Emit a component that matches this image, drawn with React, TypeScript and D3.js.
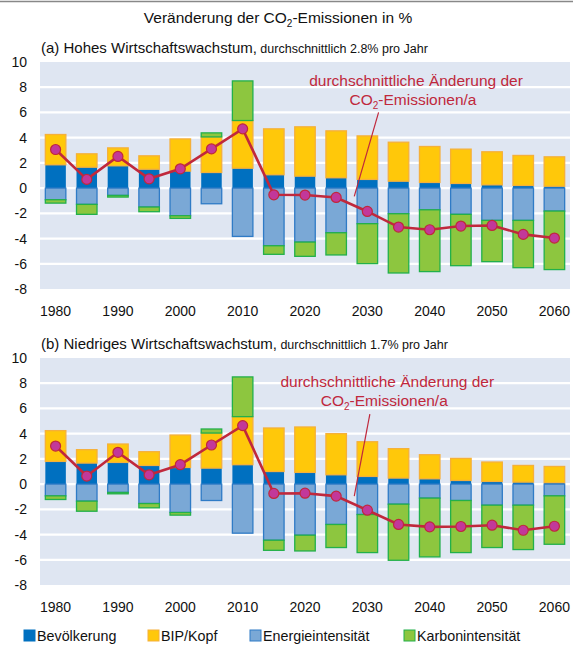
import * as d3 from "d3";

const years = [1980, 1985, 1990, 1995, 2000, 2005, 2010, 2015, 2020, 2025, 2030, 2035, 2040, 2045, 2050, 2055, 2060];
const yearLabels = [1980, 1990, 2000, 2010, 2020, 2030, 2040, 2050, 2060];
const yTicks = [-8, -6, -4, -2, 0, 2, 4, 6, 8, 10];

// (a) high growth
const popA = [1.85, 1.66, 1.77, 1.5, 1.35, 1.24, 1.58, 1.06, 0.95, 0.82, 0.69, 0.55, 0.45, 0.37, 0.26, 0.21, 0.15];
const gdpA = [2.4, 1.06, 1.42, 1.06, 2.55, 2.82, 3.78, 3.64, 3.91, 3.72, 3.45, 3.09, 2.85, 2.72, 2.62, 2.38, 2.33];
const energyA = [-0.92, -1.29, -0.58, -1.5, -2.19, -1.24, -3.83, -4.57, -4.28, -3.54, -2.82, -2.03, -1.72, -2.08, -2.56, -2.56, -1.82];
const carbonA = [-0.27, -0.79, -0.13, -0.37, -0.21, 0.32, 3.14, -0.68, -1.13, -1.76, -3.17, -4.7, -4.9, -4.07, -3.27, -3.75, -4.64];
const lineA = [3.06, 0.69, 2.51, 0.74, 1.53, 3.11, 4.7, -0.53, -0.55, -0.74, -1.85, -3.09, -3.3, -3.01, -2.96, -3.67, -3.96];

// (b) low growth
const popB = [1.8, 1.67, 1.72, 1.48, 1.32, 1.27, 1.54, 1.0, 0.93, 0.74, 0.61, 0.48, 0.42, 0.29, 0.21, 0.16, 0.1];
const gdpB = [2.44, 1.06, 1.46, 1.09, 2.57, 2.78, 3.81, 3.45, 3.6, 3.26, 2.75, 2.33, 1.91, 1.75, 1.54, 1.32, 1.3];
const energyB = [-0.93, -1.35, -0.66, -1.54, -2.25, -1.3, -3.89, -4.45, -4.05, -3.2, -2.41, -1.59, -1.11, -1.3, -1.67, -1.67, -0.93];
const carbonB = [-0.29, -0.8, -0.11, -0.34, -0.21, 0.32, 3.15, -0.8, -1.25, -1.83, -3.02, -4.45, -4.66, -4.13, -3.36, -3.52, -3.84];
const lineB = [3.02, 0.64, 2.52, 0.74, 1.54, 3.1, 4.64, -0.74, -0.72, -0.95, -2.07, -3.2, -3.39, -3.36, -3.26, -3.66, -3.34];

const keys = ["pop", "gdp", "energy", "carbon"];
const legendNames = ["Bevölkerung", "BIP/Kopf", "Energieintensität", "Karbonintensität"];
const fills: Record<string, string> = { pop: "#0070c0", gdp: "#ffc80a", energy: "#7aa8d6", carbon: "#8dc63f" };
const strokes: Record<string, string> = { pop: "#0070c0", gdp: "#f5b03a", energy: "#2f7bc6", carbon: "#22b04b" };

const FONT = "Liberation Sans, Arial, sans-serif";
const RED = "#c0283c";

const x = d3.scaleBand<number>().domain(years).range([40, 570]).paddingInner(0.31).paddingOuter(0.155);
const xc = d3.scaleLinear().domain([1980, 2060]).range([x(1980)! + x.bandwidth() / 2, x(2060)! + x.bandwidth() / 2]);

function Panel(props: { top: number; pop: number[]; gdp: number[]; energy: number[]; carbon: number[]; line: number[]; label: string; sub: string; ann: { tx: number; ty: number; x1: number; y1: number; x2: number; y2: number } }) {
  const y = d3.scaleLinear().domain([-8, 10]).range([props.top + 227, props.top]);
  const rows = years.map((yr, i) => ({ year: yr, pop: props.pop[i], gdp: props.gdp[i], energy: props.energy[i], carbon: props.carbon[i] }));
  const series = d3.stack<any>().keys(keys).offset(d3.stackOffsetDiverging)(rows);
  const path = d3.line<number>().x((_, i) => xc(years[i])).y((d) => y(d))(props.line);
  const a = props.ann;
  return (
    <g>
      <text x={41} y={props.top - 9} fontFamily={FONT} fill="#111">
        <tspan fontSize={15}>{props.label}</tspan>
        <tspan fontSize={12.5}>{" " + props.sub}</tspan>
      </text>
      <rect x={40} y={y(10)} width={530} height={y(-8) - y(10)} fill="#dfe6f2" />
      {yTicks.filter((t) => t > -8 && t < 10).map((t) => (
        <line key={t} x1={40} x2={570} y1={y(t)} y2={y(t)} stroke="#fff" strokeWidth={2.2} />
      ))}
      {yTicks.map((t) => (
        <text key={t} x={27} y={y(t) + 5} textAnchor="end" fontSize={14} fontFamily={FONT} fill="#111">{t}</text>
      ))}
      {yearLabels.map((yr) => (
        <text key={yr} x={xc(yr)} y={props.top + 254} textAnchor="middle" fontSize={14} fontFamily={FONT} fill="#111">{yr}</text>
      ))}
      {series.map((s) => s.map((d, i) => (
        d[1] - d[0] === 0 ? null :
        <rect key={s.key + i} x={x(years[i])! + 0.5} width={x.bandwidth() - 1} y={y(d[1])} height={y(d[0]) - y(d[1])}
          fill={fills[s.key]} stroke={strokes[s.key]} strokeWidth={s.key === "pop" ? 0 : 1.3} />
      )))}
      <path d={path!} fill="none" stroke={RED} strokeWidth={2.6} />
      {props.line.map((v, i) => (
        <circle key={i} cx={xc(years[i])} cy={y(v)} r={5} fill="#c2389a" stroke={RED} strokeWidth={1.2} />
      ))}
      <text x={xc(a.tx)} y={y(a.ty)} textAnchor="middle" fontSize={15.5} fontFamily={FONT} fill={RED}>durchschnittliche Änderung der</text>
      <text x={xc(a.tx) - 3} y={y(a.ty) + 19} textAnchor="middle" fontSize={15.5} fontFamily={FONT} fill={RED}>
        CO<tspan fontSize={10} dy={4}>2</tspan><tspan dy={-4}>-Emissionen/a</tspan>
      </text>
      <line x1={xc(a.x1)} y1={y(a.y1)} x2={xc(a.x2)} y2={y(a.y2)} stroke={RED} strokeWidth={1.2} />
    </g>
  );
}

export default function App() {
  return (
    <svg width={573} height={647} style={{ position: "absolute", left: 0, top: 0, background: "#fff" }}>
      <line x1={0} x2={573} y1={1.5} y2={1.5} stroke="#888" strokeWidth={1.5} />
      <text x={278} y={23} textAnchor="middle" fontSize={15.5} fontFamily={FONT} fill="#111">
        Veränderung der CO<tspan fontSize={10} dy={4}>2</tspan><tspan dy={-4}>-Emissionen in %</tspan>
      </text>
      <Panel top={62} pop={popA} gdp={gdpA} energy={energyA} carbon={carbonA} line={lineA}
        label="(a) Hohes Wirtschaftswachstum," sub="durchschnittlich 2.8% pro Jahr"
        ann={{ tx: 2037.8, ty: 8.1, x1: 2031.8, y1: 6.0, x2: 2027.9, y2: -0.65 }} />
      <Panel top={358} pop={popB} gdp={gdpB} energy={energyB} carbon={carbonB} line={lineB}
        label="(b) Niedriges Wirtschaftswachstum," sub="durchschnittlich 1.7% pro Jahr"
        ann={{ tx: 2033.2, ty: 7.7, x1: 2030.4, y1: 5.55, x2: 2027.9, y2: -0.95 }} />
      {legendNames.map((n, i) => {
        const lx = [24, 148, 250, 404][i];
        return (
          <g key={n}>
            <rect x={lx} y={630} width={11} height={11} fill={fills[keys[i]]} stroke={strokes[keys[i]]} strokeWidth={1} />
            <text x={lx + 13} y={641} fontSize={14.3} fontFamily={FONT} fill="#111">{n}</text>
          </g>
        );
      })}
    </svg>
  );
}
